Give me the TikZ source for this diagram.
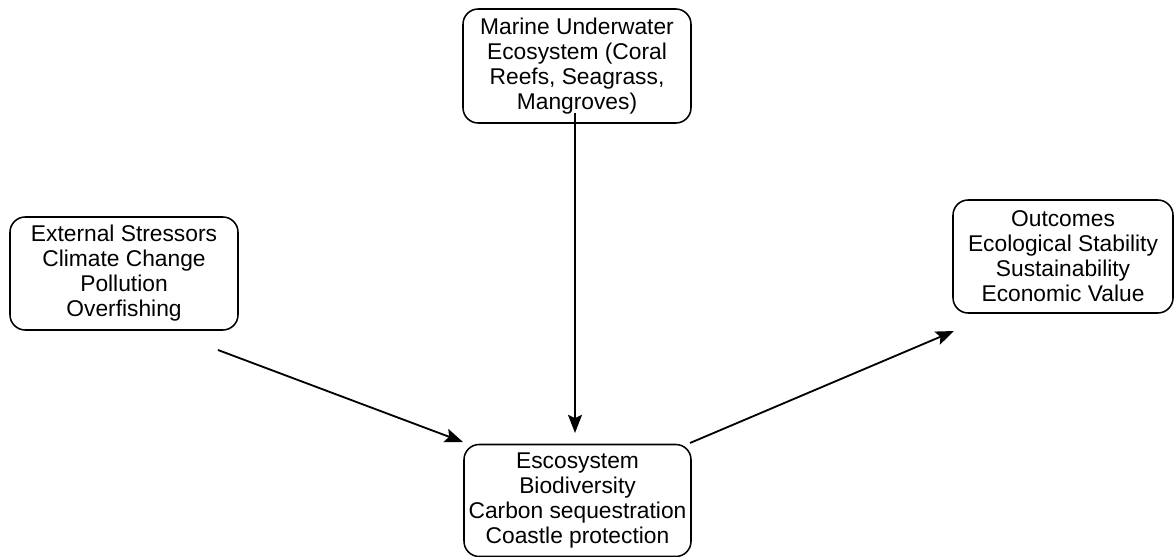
\documentclass[tikz,border=0pt]{standalone}
\usepackage{fontspec}
\setmainfont{Liberation Sans}
\usetikzlibrary{arrows.meta}
\begin{document}
\begin{tikzpicture}
                [x=0.025cm, y=-0.025cm,
                 box/.style={draw, rounded corners=0.38cm, line width=1.1pt, align=center, inner sep=0pt, font=\fontsize{16.2}{17.8}\selectfont},
                 link/.style={draw, line width=1.3pt, -{Stealth[length=13pt, width=10pt, inset=2.5pt]}}]
                \useasboundingbox (0,0) rectangle (1174,557);
                % Define nodes
                \node[box, minimum width=228*0.025cm, minimum height=114*0.025cm] (marine) at (577,66) {Marine Underwater\\Ecosystem (Coral\\Reefs, Seagrass,\\Mangroves)};
                \node[box, minimum width=228*0.025cm, minimum height=113*0.025cm] (stress) at (124,273.5) {External Stressors\\Climate Change\\Pollution\\Overfishing};
                \node[box, minimum width=220*0.025cm, minimum height=113*0.025cm] (outcome) at (1063,256.5) {Outcomes\\Ecological Stability\\Sustainability\\Economic Value};
                \node[box, minimum width=227*0.025cm, minimum height=112*0.025cm] (eco) at (577.5,500.5) {Escosystem\\Biodiversity\\Carbon sequestration\\Coastle protection};
                % Define arrow ends
                \coordinate (stressout) at (218,350);
                \coordinate (ecoinleft) at (463,442);
                \coordinate (marineout) at (575,113);
                \coordinate (ecointop) at (575,433);
                \coordinate (ecoout) at (690,443);
                \coordinate (outcomein) at (954,331);
                % Define edges
                \draw[link] (stressout) -- (ecoinleft);
                \draw[link] (marineout) -- (ecointop);
                \draw[link] (ecoout) -- (outcomein);
            \end{tikzpicture}
\end{document}
